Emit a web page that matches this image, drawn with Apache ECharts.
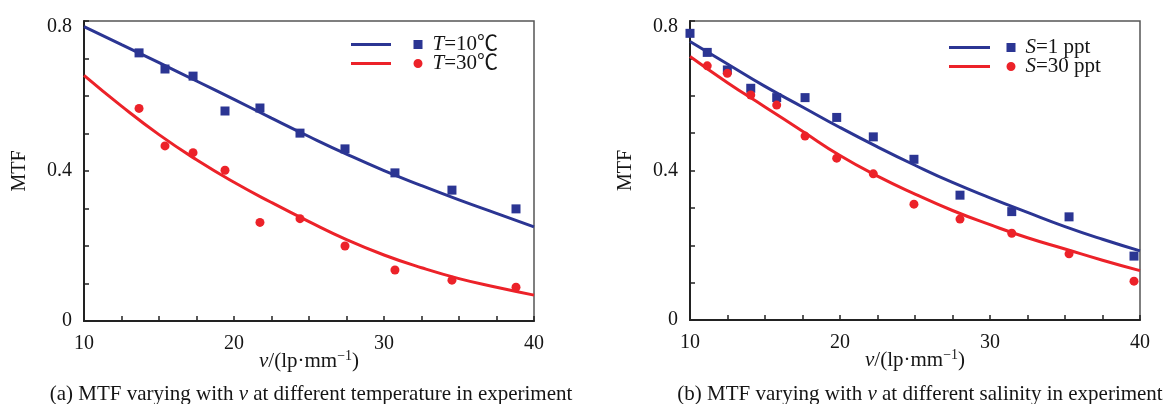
<!DOCTYPE html>
<html>
<head>
<meta charset="utf-8">
<script src="https://cdn.jsdelivr.net/npm/echarts@6/dist/echarts.min.js"></script>
<style>html,body{margin:0;padding:0;background:#fff}#c{width:1165px;height:404px}</style>
</head>
<body>
<div id="c"></div>
<script>
// ---------- data ----------
const xTickLabels = [10, 20, 30, 40];
const yTickLabels = [0, 0.4, 0.8];

// (a) temperature
const tempV = [13.67, 15.4, 17.27, 19.4, 21.73, 24.4, 27.4, 30.73, 34.53, 38.8];
const tempMTF10 = [0.715, 0.672, 0.653, 0.56, 0.568, 0.501, 0.459, 0.395, 0.349, 0.299];
const tempMTF30 = [0.567, 0.467, 0.449, 0.402, 0.263, 0.273, 0.2, 0.136, 0.109, 0.09];
const fitV = [10, 12.5, 15, 17.5, 20, 22.5, 25, 27.5, 30, 32.5, 35, 37.5, 40];
const fitT10 = [0.785, 0.737, 0.689, 0.64, 0.591, 0.541, 0.492, 0.445, 0.401, 0.361, 0.323, 0.287, 0.251];
const fitT30 = [0.655, 0.573, 0.497, 0.43, 0.37, 0.316, 0.265, 0.217, 0.176, 0.142, 0.113, 0.09, 0.069];

// (b) salinity
const salV1 = [10, 11.15, 12.49, 14.05, 15.78, 17.67, 19.78, 22.22, 24.93, 28, 31.45, 35.27, 39.6];
const salMTF1 = [0.767, 0.716, 0.669, 0.62, 0.595, 0.595, 0.542, 0.49, 0.43, 0.334, 0.29, 0.276, 0.171];
const salV30 = [11.15, 12.49, 14.05, 15.78, 17.67, 19.78, 22.22, 24.93, 28, 31.45, 35.27, 39.6];
const salMTF30 = [0.68, 0.66, 0.602, 0.575, 0.492, 0.433, 0.391, 0.31, 0.27, 0.232, 0.177, 0.104];
const fitS1 = [0.745, 0.685, 0.625, 0.57, 0.515, 0.463, 0.414, 0.368, 0.327, 0.288, 0.25, 0.216, 0.185];
const fitS30 = [0.705, 0.635, 0.57, 0.505, 0.44, 0.385, 0.337, 0.293, 0.255, 0.22, 0.19, 0.16, 0.132];

const seriesNames = ['T=10℃', 'T=30℃', 'S=1 ppt', 'S=30 ppt'];
const captions = [
  '(a) MTF varying with {i|v} at different temperature in experiment',
  '(b) MTF varying with {i|v} at different salinity in experiment'
];

// ---------- style ----------
const FONT = '"Liberation Serif", "Times New Roman", "Noto Sans CJK SC", "DejaVu Serif", serif';
const BLUE = '#2b3593';
const RED = '#ec2229';
const TXT = '#151515';
const zip = (a, b) => a.map((v, i) => [v, b[i]]);

function xAxis(gi) {
  return {
    type: 'value', gridIndex: gi, min: 10, max: 40, interval: 2.5,
    name: '{i|v}/(lp·mm{sup|−1})', nameLocation: 'middle', nameGap: 28,
    nameMoveOverlap: false,
    nameTextStyle: {
      fontFamily: FONT, fontSize: 21, color: TXT,
      rich: {
        i: { fontFamily: FONT, fontSize: 21, fontStyle: 'italic', color: TXT, lineHeight: 24 },
        sup: { fontFamily: FONT, fontSize: 14, color: TXT, verticalAlign: 'top', lineHeight: 14 }
      }
    },
    axisLine: { onZero: false, lineStyle: { color: '#222', width: 2 } },
    axisTick: { inside: true, length: 5, lineStyle: { color: '#222', width: 1.5 } },
    splitLine: { show: false },
    axisLabel: {
      margin: 13, fontFamily: FONT, fontSize: 20, color: TXT,
      formatter: v => (xTickLabels.includes(Math.round(v * 10) / 10) ? String(v) : '')
    }
  };
}
function yAxis(gi) {
  return {
    type: 'value', gridIndex: gi, min: 0, max: 0.8, interval: 0.1,
    name: 'MTF', nameLocation: 'middle', nameGap: 54,
    nameMoveOverlap: false,
    nameTextStyle: { fontFamily: FONT, fontSize: 20, color: TXT },
    axisLine: { onZero: false, lineStyle: { color: '#222', width: 2 } },
    axisTick: { inside: true, length: 5, lineStyle: { color: '#222', width: 1.5 } },
    splitLine: { show: false },
    axisLabel: {
      margin: 12, fontFamily: FONT, fontSize: 20, color: TXT,
      formatter: v => {
        const r = Math.round(v * 10) / 10;
        if (!yTickLabels.includes(r)) return '';
        return r === 0.8 ? '{t|0.8}' : String(r);
      },
      rich: { t: { fontFamily: FONT, fontSize: 20, color: TXT, padding: [12, 0, 0, 0] } }
    }
  };
}
function fitSeries(name, gi, ys, color) {
  return {
    name: name, type: 'line', xAxisIndex: gi, yAxisIndex: gi,
    data: zip(fitV, ys), smooth: true, showSymbol: false, symbol: 'none',
    lineStyle: { color: color, width: 3 }, itemStyle: { color: color },
    silent: true, z: 2
  };
}
function dotSeries(name, gi, xs, ys, color, symbol) {
  return {
    name: name, type: 'scatter', xAxisIndex: gi, yAxisIndex: gi,
    data: zip(xs, ys), symbol: symbol, symbolSize: 9,
    itemStyle: { color: color, opacity: 1 }, z: 3
  };
}
const legendText = {
  fontFamily: FONT, fontSize: 21, color: TXT, lineHeight: 19,
  rich: {
    s: { width: 5 },
    i: { fontFamily: FONT, fontSize: 21, fontStyle: 'italic', color: TXT, lineHeight: 19 },
    n: { fontFamily: FONT, fontSize: 21, color: TXT, lineHeight: 19 }
  }
};
const legendFmt = name => '{s| }{i|' + name.charAt(0) + '}{n|' + name.slice(1) + '}';

const option = {
  animation: false,
  backgroundColor: '#fff',
  grid: [
    { left: 84, top: 21, width: 450, height: 300, show: true, borderColor: '#555', borderWidth: 1.5, backgroundColor: 'transparent' },
    { left: 690, top: 21, width: 450, height: 299, show: true, borderColor: '#555', borderWidth: 1.5, backgroundColor: 'transparent' }
  ],
  xAxis: [xAxis(0), xAxis(1)],
  yAxis: [yAxis(0), yAxis(1)],
  legend: [
    {
      orient: 'vertical', left: 346, top: 29, itemGap: -2, itemWidth: 71.5, itemHeight: 9,
      selectedMode: false,
      data: [
        { name: seriesNames[0], icon: 'path://M0,3h40v3H0z M62.5,0h9v9h-9z' },
        { name: seriesNames[1], icon: 'path://M0,3h40v3H0z M71.5,4.5a4.5,4.5 0 1,1 -9,0a4.5,4.5 0 1,1 9,0z' }
      ],
      formatter: legendFmt, textStyle: legendText
    },
    {
      orient: 'vertical', left: 944, top: 32, itemGap: -2, itemWidth: 66.5, itemHeight: 9,
      selectedMode: false,
      data: [
        { name: seriesNames[2], icon: 'path://M0,3h41v3H0z M57.5,0h9v9h-9z' },
        { name: seriesNames[3], icon: 'path://M0,3h41v3H0z M66.5,4.5a4.5,4.5 0 1,1 -9,0a4.5,4.5 0 1,1 9,0z' }
      ],
      formatter: legendFmt, textStyle: legendText
    }
  ],
  title: captions.map((t, i) => ({
    text: t, left: i === 0 ? 306 : 915, top: 379, textAlign: 'center',
    textStyle: {
      fontFamily: FONT, fontSize: 21, fontWeight: 'normal', color: TXT,
      rich: {
        i: { fontFamily: FONT, fontSize: 21, fontStyle: 'italic', color: TXT }
      }
    }
  })),
  series: [
    fitSeries('fit ' + seriesNames[0], 0, fitT10, BLUE),
    fitSeries('fit ' + seriesNames[1], 0, fitT30, RED),
    dotSeries(seriesNames[0], 0, tempV, tempMTF10, BLUE, 'rect'),
    dotSeries(seriesNames[1], 0, tempV, tempMTF30, RED, 'circle'),
    fitSeries('fit ' + seriesNames[2], 1, fitS1, BLUE),
    fitSeries('fit ' + seriesNames[3], 1, fitS30, RED),
    dotSeries(seriesNames[2], 1, salV1, salMTF1, BLUE, 'rect'),
    dotSeries(seriesNames[3], 1, salV30, salMTF30, RED, 'circle')
  ]
};
const chart = echarts.init(document.getElementById('c'), null, { renderer: 'canvas' });
chart.setOption(option);
</script>
</body>
</html>
